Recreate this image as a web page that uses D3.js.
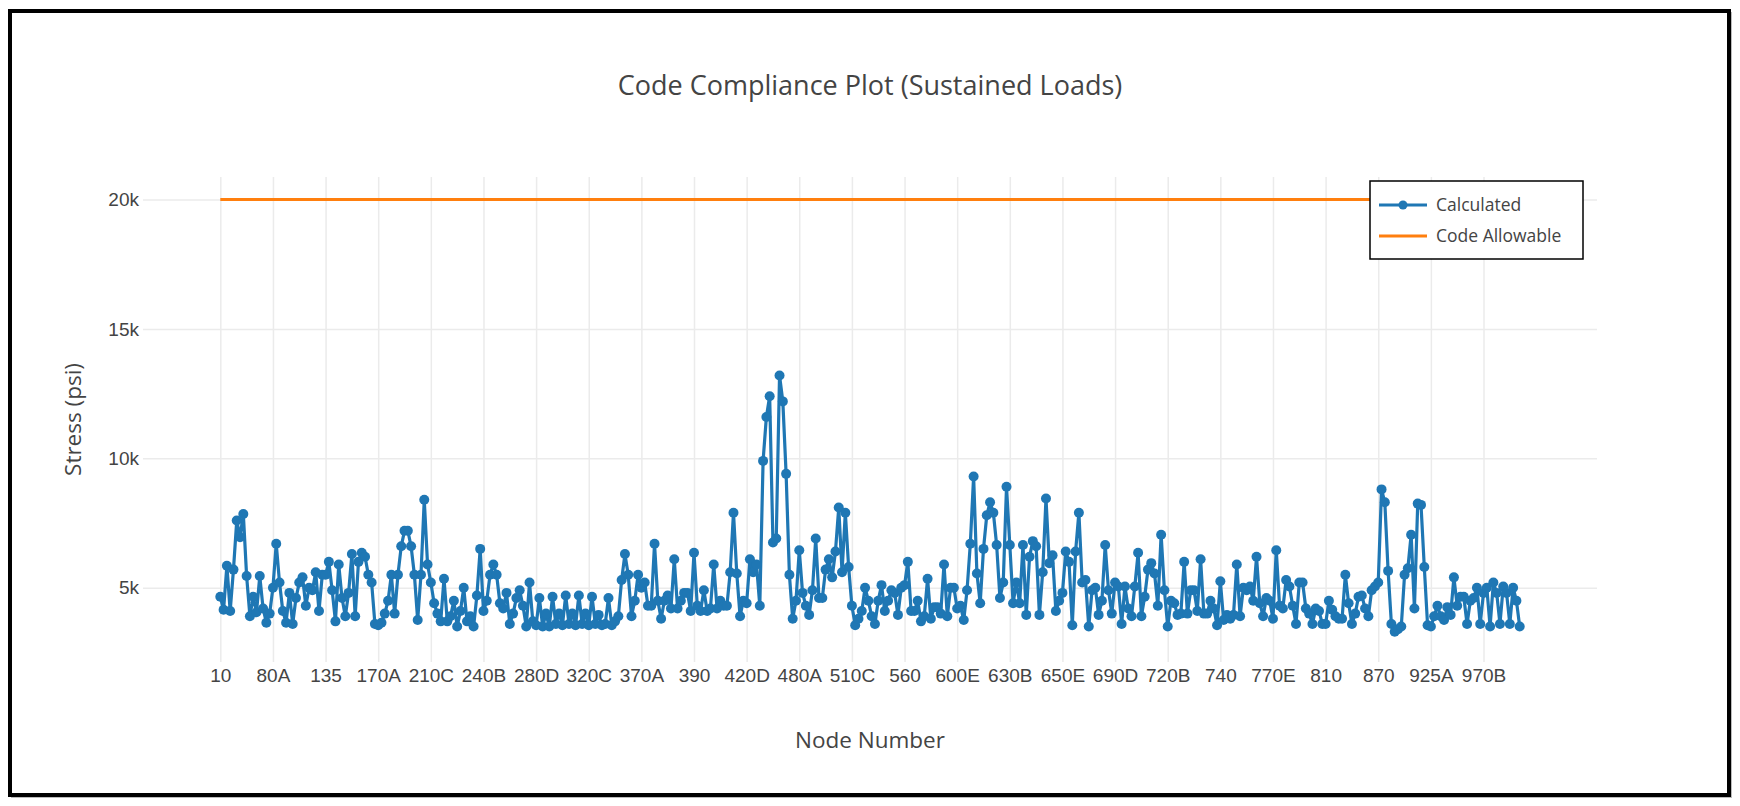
<!DOCTYPE html>
<html>
<head>
<meta charset="utf-8">
<script src="https://cdn.jsdelivr.net/npm/d3@7"></script>
<style>
  body { margin: 0; background: #fff; }
  svg { display: block; font-family: "Open Sans", verdana, arial, sans-serif; }
</style>
</head>
<body>
<svg id="chart" width="1740" height="806"></svg>
<script>
document.addEventListener("DOMContentLoaded", () => {
  "use strict";

  const TITLE = "Code Compliance Plot (Sustained Loads)";
  const X_TITLE = "Node Number";
  const Y_TITLE = "Stress (psi)";
  const SERIES = ["Calculated", "Code Allowable"];

  // one label every 16 nodes
  const tickLabels = ["10", "80A", "135", "170A", "210C", "240B", "280D", "320C", "370A", "390",
    "420D", "480A", "510C", "560", "600E", "630B", "650E", "690D", "720B", "740",
    "770E", "810", "870", "925A", "970B"];
  const nodesPerTick = 16;

  const yTicks = [5000, 10000, 15000, 20000];
  const codeAllowable = 20000;

  // calculated sustained stress (psi), node by node
  const calculated = [
    4650, 4150, 5850, 4100, 5700, 7600, 6950, 7850, 5450, 3900, 4650, 4050, 5450, 4200, 3650, 4000,
    5000, 6700, 5200, 4100, 3650, 4800, 3600, 4600, 5200, 5400, 4300, 5000, 4900, 5600, 4100, 5500,
    5500, 6000, 4900, 3700, 5900, 4600, 3900, 4800, 6300, 3900, 6000, 6350, 6200, 5500, 5200, 3600,
    3550, 3650, 4000, 4500, 5500, 4000, 5500, 6600, 7200, 7200, 6600, 5500, 3750, 5500, 8400, 5900,
    5200, 4400, 4000, 3700, 5350, 3700, 3900, 4500, 3500, 4100, 5000, 3700, 3900, 3500, 4700, 6500,
    4100, 4500, 5500, 5900, 5500, 4400, 4200, 4800, 3600, 4000, 4600, 4900, 4300, 3500, 5200, 3700,
    3550, 4600, 3500, 4000, 3500, 4650, 3600, 4000, 3550, 4700, 3600, 4000, 3550, 4700, 3600, 4000,
    3550, 4650, 3600, 3950, 3550, 3600, 4600, 3550, 3700, 3900, 5300, 6300, 5500, 3900, 4500, 5500,
    5000, 5200, 4300, 4300, 6700, 4500, 3800, 4500, 4700, 4200, 6100, 4200, 4500, 4800, 4800, 4100,
    6350, 4300, 4100, 4900, 4100, 4200, 5900, 4200, 4500, 4300, 4300, 5600, 7900, 5550, 3900, 4500,
    4400, 6100, 5600, 5900, 4300, 9900, 11600, 12400, 6750, 6900, 13200, 12200, 9400, 5500, 3800, 4500,
    6450, 4800, 4300, 3950, 4900, 6900, 4600, 4600, 5700, 6100, 5400, 6400, 8100, 5600, 7900, 5800,
    4300, 3550, 3800, 4100, 5000, 4500, 3900, 3600, 4500, 5100, 4100, 4500, 4900, 4800, 3950, 5000,
    5100, 6000, 4100, 4100, 4500, 3700, 3900, 5350, 3800, 4250, 4250, 4000, 5900, 3900, 5000, 5000,
    4200, 4300, 3750, 4900, 6700, 9300, 5550, 4400, 6500, 7800, 8300, 7900, 6650, 4600, 5200, 8900,
    6650, 4400, 5200, 4400, 6650, 3950, 6200, 6800, 6600, 3950, 5600, 8450, 5950, 6250, 4100, 4500,
    4800, 6400, 6000, 3550, 6400, 7900, 5200, 5300, 3500, 4900, 5000, 3950, 4500, 6650, 4900, 4000,
    5200, 5050, 3600, 5050, 4200, 3900, 5050, 6350, 3900, 4650, 5700, 5950, 5550, 4300, 7050, 4900,
    3500, 4500, 4400, 3950, 4000, 6000, 4000, 4900, 4900, 4100, 6100, 4000, 4000, 4500, 4200, 3550,
    5250, 3750, 3950, 3800, 3950, 5900, 3900, 5000, 4900, 5050, 4500, 6200, 4400, 3900, 4600, 4500,
    3800, 6450, 4300, 4200, 5300, 5050, 4300, 3600, 5200, 5200, 4200, 4000, 3600, 4200, 4100, 3600,
    3600, 4500, 4150, 3900, 3800, 3800, 5500, 4400, 3600, 4000, 4650, 4700, 4200, 3900, 4900, 5050,
    5200, 8800, 8300, 5650, 3600, 3300, 3400, 3500, 5500, 5750, 7050, 4200, 8250, 8200, 5800, 3550,
    3500, 3900, 4300, 3900, 3750, 4250, 3950, 5400, 4300, 4650, 4650, 3600, 4500, 4600, 5000, 3600,
    4800, 5000, 3500, 5200, 4800, 3600, 5050, 4800, 3600, 5000, 4500, 3500
  ];

  const BLUE = "#1f77b4";
  const ORANGE = "#ff7f0e";
  const TEXT = "#444";
  const GRID = "#ebebeb";

  const svg = d3.select("#chart");
  const W = +svg.attr("width"), H = +svg.attr("height");
  const P = { left: 143, right: 1597, top: 177, bottom: 662 };

  // frame round the whole picture
  svg.append("rect")
    .attr("x", 12).attr("y", 13).attr("width", W - 21).attr("height", H - 22)
    .attr("fill", "none").attr("stroke", "#bbb").attr("stroke-width", 2);
  svg.append("rect")
    .attr("x", 10).attr("y", 11).attr("width", W - 21).attr("height", H - 22)
    .attr("fill", "#fff").attr("stroke", "#000").attr("stroke-width", 4);

  const last = calculated.length - 1;
  const x = d3.scaleLinear().domain([-23.5, last + 23.5]).range([P.left, P.right]);
  const y = d3.scaleLinear().domain([2130, 20870]).range([P.bottom, P.top]);

  const xTickVals = tickLabels.map((_, i) => i * nodesPerTick);

  // x axis + vertical grid
  const gx = svg.append("g").attr("transform", `translate(0,${P.bottom})`)
    .call(d3.axisBottom(x).tickValues(xTickVals)
      .tickFormat((d, i) => tickLabels[i])
      .tickSizeInner(-(P.bottom - P.top)).tickSizeOuter(0).tickPadding(7));
  gx.select(".domain").remove();
  gx.selectAll("line").attr("stroke", GRID).attr("stroke-width", 1.5);
  gx.selectAll("text").attr("fill", TEXT).style("font-size", "19px");

  // y axis + horizontal grid
  const gy = svg.append("g").attr("transform", `translate(${P.left},0)`)
    .call(d3.axisLeft(y).tickValues(yTicks)
      .tickFormat(d => d / 1000 + "k")
      .tickSizeInner(-(P.right - P.left)).tickSizeOuter(0).tickPadding(4));
  gy.select(".domain").remove();
  gy.selectAll("line").attr("stroke", GRID).attr("stroke-width", 1.5);
  gy.selectAll("text").attr("fill", TEXT).style("font-size", "19px");

  // Calculated
  const line = d3.line().x((d, i) => x(i)).y(d => y(d));
  svg.append("path").datum(calculated)
    .attr("d", line)
    .attr("fill", "none").attr("stroke", BLUE).attr("stroke-width", 3.2)
    .attr("stroke-linejoin", "round");
  svg.append("g").selectAll("circle").data(calculated).join("circle")
    .attr("cx", (d, i) => x(i)).attr("cy", d => y(d)).attr("r", 5)
    .attr("fill", BLUE);

  // Code Allowable
  svg.append("line")
    .attr("x1", x(0)).attr("x2", x(last))
    .attr("y1", y(codeAllowable)).attr("y2", y(codeAllowable))
    .attr("stroke", ORANGE).attr("stroke-width", 3);

  // titles
  svg.append("text")
    .attr("x", 870).attr("y", 86).attr("dy", "0.35em")
    .attr("text-anchor", "middle").attr("fill", TEXT)
    .style("font-size", "27px").text(TITLE);

  svg.append("text")
    .attr("x", (P.left + P.right) / 2).attr("y", 740).attr("dy", "0.35em")
    .attr("text-anchor", "middle").attr("fill", TEXT)
    .style("font-size", "22.5px").text(X_TITLE);

  svg.append("text")
    .attr("transform", `translate(73,${(P.top + P.bottom) / 2}) rotate(-90)`)
    .attr("dy", "0.35em")
    .attr("text-anchor", "middle").attr("fill", TEXT)
    .style("font-size", "22.5px").text(Y_TITLE);

  // legend
  const lg = svg.append("g").attr("transform", "translate(1370,181)");
  lg.append("rect").attr("width", 213).attr("height", 78)
    .attr("fill", "#fff").attr("stroke", "#000").attr("stroke-width", 1.5);
  const items = lg.selectAll("g.item").data(SERIES).join("g")
    .attr("class", "item")
    .attr("transform", (d, i) => `translate(0,${24 + i * 31})`);
  items.append("line")
    .attr("x1", 9).attr("x2", 57)
    .attr("stroke", (d, i) => i === 0 ? BLUE : ORANGE).attr("stroke-width", 3);
  items.filter((d, i) => i === 0).append("circle")
    .attr("cx", 33).attr("r", 4.5).attr("fill", BLUE);
  items.append("text")
    .attr("x", 66).attr("dy", "0.35em").attr("fill", TEXT)
    .style("font-size", "17.5px").text(d => d);
});
</script>
</body>
</html>
